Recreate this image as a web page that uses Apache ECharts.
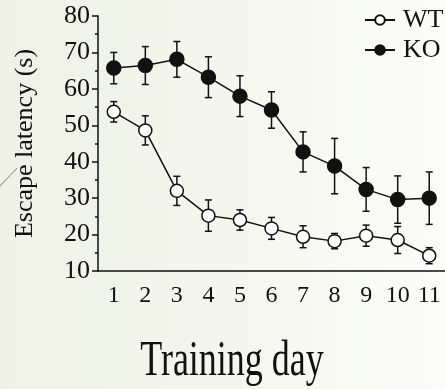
<!DOCTYPE html>
<html><head><meta charset="utf-8">
<script src="https://cdn.jsdelivr.net/npm/echarts@6/dist/echarts.min.js"></script>
<style>html,body{margin:0;padding:0;}#c{width:445px;height:389px;}</style>
</head><body><div id="c"></div>
<script>
const days = ['1','2','3','4','5','6','7','8','9','10','11'];
const wtMean = [53.7, 48.6, 32.0, 25.2, 24.0, 21.7, 19.4, 18.2, 19.7, 18.5, 14.2];
const wtErr  = [2.8, 4.0, 4.0, 4.3, 2.8, 3.0, 3.0, 2.1, 2.9, 3.7, 2.2];
const koMean = [65.7, 66.4, 68.1, 63.2, 58.0, 54.2, 42.7, 38.8, 32.4, 29.6, 30.0];
const koErr  = [4.3, 5.2, 4.9, 5.6, 5.6, 5.0, 5.5, 7.6, 6.0, 6.5, 7.2];
const yTicks = [10, 20, 30, 40, 50, 60, 70, 80];

const FONT = 'Liberation Serif';
const chart = echarts.init(document.getElementById('c'));

function errData(mean, err){ return mean.map((m,i)=>[i, m-err[i], m+err[i]]); }
function errRender(params, api){
  const x = api.value(0);
  const lo = api.coord([x, api.value(1)]);
  const hi = api.coord([x, api.value(2)]);
  const cw = 3.5;
  const st = {stroke:'#111', lineWidth:1.5, fill:null};
  return {type:'group', children:[
    {type:'line', shape:{x1:lo[0],y1:lo[1],x2:hi[0],y2:hi[1]}, style:st},
    {type:'line', shape:{x1:hi[0]-cw,y1:hi[1],x2:hi[0]+cw,y2:hi[1]}, style:st},
    {type:'line', shape:{x1:lo[0]-cw,y1:lo[1],x2:lo[0]+cw,y2:lo[1]}, style:st}
  ]};
}

chart.setOption({
  backgroundColor: {type:'linear', x:0, y:0, x2:1, y2:0, colorStops:[{offset:0,color:'#eef1e3'},{offset:1,color:'#fbfcf8'}]},
  animation:false,
  textStyle:{fontFamily:FONT},
  grid:{left:98, top:16, width:349, height:255, containLabel:false},
  legend:{
    orient:'vertical', left:364, top:7, padding:0, itemGap:4, itemWidth:30, itemHeight:12,
    textStyle:{fontFamily:FONT, fontSize:26, color:'#111', padding:[0,0,0,3]},
    data:['WT','KO']
  },
  xAxis:{
    type:'category', data:days, boundaryGap:true,
    axisLine:{lineStyle:{color:'#111', width:1.5}},
    axisTick:{alignWithLabel:true, length:5, lineStyle:{color:'#111', width:1.5}},
    axisLabel:{fontFamily:FONT, fontSize:24, color:'#111', margin:13, interval:0},
    splitLine:{show:false}
  },
  yAxis:{
    type:'value', min:yTicks[0], max:yTicks[yTicks.length-1], interval:10,
    name:'Escape latency (s)', nameLocation:'middle', nameGap:60,
    nameTextStyle:{fontFamily:FONT, fontSize:26, color:'#111'},
    axisLine:{show:true, lineStyle:{color:'#111', width:1.5}},
    axisTick:{show:true, length:6, lineStyle:{color:'#111', width:1.5}},
    minorTick:{show:true, splitNumber:2, length:3, lineStyle:{color:'#111', width:1.5}},
    axisLabel:{fontFamily:FONT, fontSize:26, color:'#111', margin:8},
    splitLine:{show:false}
  },
  graphic:[
    {type:'line', shape:{x1:0,y1:186,x2:17,y2:168}, style:{stroke:'#8a7f6e', lineWidth:1}},
    {type:'text', x:232, y:362, scaleY:1.38, style:{text:'Training day', font:'36px "Liberation Serif"', fill:'#111', textAlign:'center', textVerticalAlign:'middle'}}
  ],
  series:[
    {type:'custom', name:'wtErr', renderItem:errRender, data:errData(wtMean, wtErr), z:1, silent:true},
    {type:'custom', name:'koErr', renderItem:errRender, data:errData(koMean, koErr), z:1, silent:true},
    {type:'line', name:'WT', data:wtMean, symbol:'circle', symbolSize:13, z:3,
      lineStyle:{color:'#111', width:1.5}, itemStyle:{color:'#fff', borderColor:'#111', borderWidth:1.5}},
    {type:'line', name:'KO', data:koMean, symbol:'circle', symbolSize:14, z:3,
      lineStyle:{color:'#111', width:1.5}, itemStyle:{color:'#111', borderColor:'#111', borderWidth:1.5}}
  ]
});
</script></body></html>
